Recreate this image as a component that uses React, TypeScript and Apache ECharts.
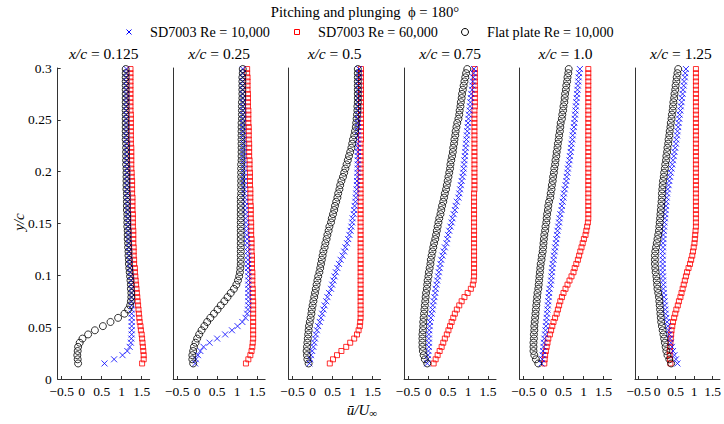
import React, { useEffect, useRef } from "react";
import * as echarts from "echarts";

// y/c positions of the measurement points (shared by every profile)
const yPos = [
  0.015, 0.019, 0.023, 0.027, 0.031, 0.035, 0.039, 0.043, 0.047, 0.051, 0.055, 0.059,
  0.063, 0.067, 0.071, 0.075, 0.079, 0.083, 0.087, 0.091, 0.095, 0.099, 0.103, 0.107,
  0.111, 0.115, 0.119, 0.123, 0.127, 0.131, 0.135, 0.139, 0.143, 0.147, 0.151, 0.155,
  0.159, 0.163, 0.167, 0.171, 0.175, 0.179, 0.183, 0.187, 0.191, 0.195, 0.199, 0.203,
  0.207, 0.211, 0.215, 0.219, 0.223, 0.227, 0.231, 0.235, 0.239, 0.243, 0.247, 0.251,
  0.255, 0.259, 0.263, 0.267, 0.271, 0.275, 0.279, 0.283, 0.287, 0.291, 0.295, 0.299,
];

const panelLabels = ["0.125", "0.25", "0.5", "0.75", "1.0", "1.25"];
const xTicks = [-0.5, 0, 0.5, 1, 1.5];
const seriesNames = ["SD7003 Re = 10,000", "SD7003 Re = 60,000", "Flat plate Re = 10,000"];

// ---- x/c = 0.125 ----
const sd10_p1 = [
  0.57, 0.81, 1.02, 1.14, 1.20, 1.23, 1.24, 1.25, 1.25, 1.25, 1.25, 1.25,
  1.25, 1.25, 1.25, 1.25, 1.25, 1.25, 1.25, 1.24, 1.24, 1.23, 1.22, 1.21,
  1.20, 1.20, 1.19, 1.19, 1.18, 1.18, 1.17, 1.17, 1.17, 1.16, 1.16, 1.16,
  1.16, 1.15, 1.15, 1.15, 1.15, 1.15, 1.14, 1.14, 1.14, 1.14, 1.14, 1.14,
  1.13, 1.13, 1.13, 1.13, 1.13, 1.13, 1.13, 1.12, 1.12, 1.12, 1.12, 1.12,
  1.12, 1.12, 1.12, 1.12, 1.12, 1.12, 1.12, 1.12, 1.12, 1.12, 1.12, 1.12,
];
const sd60_p1 = [
  1.51, 1.55, 1.55, 1.54, 1.53, 1.52, 1.51, 1.50, 1.48, 1.47, 1.45, 1.44,
  1.43, 1.42, 1.41, 1.40, 1.39, 1.38, 1.37, 1.36, 1.35, 1.34, 1.33, 1.33,
  1.31, 1.31, 1.30, 1.30, 1.30, 1.29, 1.29, 1.29, 1.29, 1.28, 1.28, 1.28,
  1.28, 1.27, 1.27, 1.27, 1.27, 1.26, 1.26, 1.26, 1.26, 1.25, 1.25, 1.24,
  1.24, 1.24, 1.24, 1.24, 1.24, 1.23, 1.23, 1.23, 1.23, 1.23, 1.23, 1.23,
  1.23, 1.22, 1.22, 1.22, 1.22, 1.22, 1.22, 1.22, 1.22, 1.22, 1.22, 1.22,
];
const flat_p1 = [
  -0.09, -0.10, -0.11, -0.10, -0.09, -0.05, 0.02, 0.16, 0.33, 0.53, 0.72, 0.91,
  1.07, 1.16, 1.21, 1.23, 1.24, 1.24, 1.23, 1.23, 1.22, 1.21, 1.20, 1.19,
  1.18, 1.18, 1.17, 1.17, 1.16, 1.16, 1.15, 1.15, 1.15, 1.14, 1.14, 1.14,
  1.14, 1.13, 1.13, 1.13, 1.13, 1.13, 1.12, 1.12, 1.12, 1.12, 1.12, 1.12,
  1.11, 1.11, 1.11, 1.11, 1.11, 1.11, 1.10, 1.10, 1.10, 1.10, 1.10, 1.10,
  1.10, 1.10, 1.10, 1.10, 1.10, 1.10, 1.10, 1.10, 1.10, 1.10, 1.10, 1.10,
];

// ---- x/c = 0.25 ----
const sd10_p2 = [
  -0.05, -0.03, 0.02, 0.08, 0.16, 0.31, 0.50, 0.70, 0.87, 1.01, 1.13, 1.21,
  1.25, 1.27, 1.28, 1.28, 1.28, 1.28, 1.28, 1.28, 1.28, 1.28, 1.28, 1.27,
  1.27, 1.27, 1.27, 1.26, 1.26, 1.25, 1.25, 1.24, 1.23, 1.23, 1.22, 1.21,
  1.21, 1.20, 1.20, 1.19, 1.19, 1.18, 1.18, 1.18, 1.17, 1.17, 1.17, 1.17,
  1.17, 1.16, 1.16, 1.16, 1.16, 1.16, 1.16, 1.15, 1.15, 1.15, 1.15, 1.15,
  1.15, 1.15, 1.15, 1.15, 1.15, 1.14, 1.14, 1.14, 1.14, 1.14, 1.14, 1.14,
];
const sd60_p2 = [
  1.22, 1.28, 1.33, 1.36, 1.38, 1.39, 1.40, 1.40, 1.40, 1.40, 1.40, 1.40,
  1.40, 1.40, 1.40, 1.40, 1.39, 1.39, 1.39, 1.38, 1.38, 1.38, 1.38, 1.37,
  1.37, 1.37, 1.37, 1.36, 1.36, 1.36, 1.36, 1.35, 1.35, 1.35, 1.35, 1.34,
  1.34, 1.34, 1.34, 1.33, 1.33, 1.33, 1.33, 1.32, 1.32, 1.32, 1.32, 1.31,
  1.31, 1.31, 1.30, 1.30, 1.30, 1.30, 1.29, 1.29, 1.29, 1.29, 1.28, 1.28,
  1.28, 1.28, 1.27, 1.27, 1.27, 1.27, 1.26, 1.26, 1.26, 1.26, 1.25, 1.25,
];
const flat_p2 = [
  -0.10, -0.12, -0.12, -0.10, -0.08, -0.04, 0.00, 0.05, 0.11, 0.18, 0.25, 0.33,
  0.42, 0.51, 0.59, 0.68, 0.76, 0.84, 0.92, 0.98, 1.02, 1.05, 1.07, 1.08,
  1.09, 1.09, 1.09, 1.09, 1.09, 1.09, 1.09, 1.09, 1.09, 1.09, 1.09, 1.09,
  1.09, 1.09, 1.09, 1.09, 1.09, 1.10, 1.10, 1.10, 1.10, 1.10, 1.10, 1.10,
  1.10, 1.11, 1.11, 1.11, 1.11, 1.11, 1.11, 1.11, 1.11, 1.11, 1.11, 1.12,
  1.12, 1.12, 1.12, 1.12, 1.13, 1.13, 1.13, 1.13, 1.13, 1.13, 1.14, 1.14,
];

// ---- x/c = 0.5 ----
const sd10_p3 = [
  -0.08, -0.06, -0.04, -0.01, 0.02, 0.04, 0.06, 0.08, 0.11, 0.14, 0.18, 0.21,
  0.24, 0.27, 0.30, 0.34, 0.37, 0.41, 0.46, 0.49, 0.52, 0.55, 0.58, 0.62,
  0.66, 0.70, 0.75, 0.79, 0.82, 0.86, 0.89, 0.92, 0.95, 0.97, 0.99, 1.00,
  1.03, 1.04, 1.05, 1.07, 1.08, 1.09, 1.10, 1.11, 1.11, 1.12, 1.12, 1.13,
  1.13, 1.13, 1.13, 1.13, 1.13, 1.13, 1.13, 1.13, 1.13, 1.13, 1.13, 1.13,
  1.14, 1.14, 1.14, 1.14, 1.14, 1.15, 1.15, 1.15, 1.15, 1.16, 1.16, 1.16,
];
const sd60_p3 = [
  0.43, 0.51, 0.61, 0.72, 0.84, 0.94, 1.04, 1.11, 1.15, 1.18, 1.19, 1.20,
  1.20, 1.20, 1.20, 1.20, 1.20, 1.20, 1.20, 1.20, 1.20, 1.20, 1.20, 1.20,
  1.20, 1.20, 1.20, 1.20, 1.20, 1.20, 1.20, 1.20, 1.20, 1.20, 1.20, 1.20,
  1.20, 1.20, 1.20, 1.20, 1.20, 1.20, 1.20, 1.20, 1.20, 1.20, 1.20, 1.20,
  1.20, 1.20, 1.20, 1.20, 1.20, 1.20, 1.21, 1.21, 1.21, 1.21, 1.21, 1.21,
  1.21, 1.21, 1.21, 1.21, 1.21, 1.21, 1.21, 1.21, 1.21, 1.21, 1.21, 1.21,
];
const flat_p3 = [
  -0.10, -0.13, -0.14, -0.15, -0.14, -0.13, -0.12, -0.11, -0.10, -0.09, -0.07, -0.05,
  -0.03, -0.02, 0.00, 0.02, 0.04, 0.06, 0.08, 0.10, 0.12, 0.14, 0.17, 0.19,
  0.21, 0.23, 0.25, 0.27, 0.30, 0.32, 0.35, 0.37, 0.40, 0.42, 0.46, 0.48,
  0.51, 0.54, 0.56, 0.59, 0.62, 0.64, 0.67, 0.69, 0.72, 0.76, 0.79, 0.82,
  0.85, 0.88, 0.91, 0.94, 0.97, 0.99, 1.01, 1.04, 1.06, 1.08, 1.09, 1.10,
  1.11, 1.12, 1.12, 1.13, 1.13, 1.13, 1.13, 1.13, 1.13, 1.13, 1.13, 1.13,
];

// ---- x/c = 0.75 ----
const sd10_p4 = [
  -0.02, -0.01, 0.00, 0.01, 0.02, 0.02, 0.02, 0.02, 0.03, 0.04, 0.05, 0.07,
  0.09, 0.11, 0.12, 0.14, 0.16, 0.18, 0.19, 0.21, 0.23, 0.25, 0.27, 0.29,
  0.31, 0.33, 0.36, 0.39, 0.42, 0.46, 0.48, 0.50, 0.53, 0.56, 0.59, 0.61,
  0.64, 0.67, 0.69, 0.72, 0.76, 0.78, 0.80, 0.82, 0.84, 0.86, 0.88, 0.89,
  0.90, 0.91, 0.92, 0.93, 0.94, 0.95, 0.96, 0.97, 0.98, 0.99, 1.00, 1.01,
  1.02, 1.04, 1.05, 1.06, 1.07, 1.08, 1.10, 1.11, 1.12, 1.13, 1.14, 1.15,
];
const sd60_p4 = [
  0.14, 0.19, 0.24, 0.29, 0.34, 0.38, 0.42, 0.47, 0.51, 0.55, 0.59, 0.63,
  0.67, 0.72, 0.78, 0.84, 0.91, 0.99, 1.07, 1.12, 1.14, 1.15, 1.15, 1.15,
  1.15, 1.15, 1.15, 1.15, 1.15, 1.15, 1.15, 1.15, 1.15, 1.15, 1.15, 1.15,
  1.15, 1.15, 1.15, 1.15, 1.15, 1.15, 1.16, 1.16, 1.16, 1.16, 1.16, 1.16,
  1.16, 1.16, 1.16, 1.16, 1.16, 1.16, 1.16, 1.16, 1.16, 1.16, 1.16, 1.16,
  1.16, 1.16, 1.17, 1.17, 1.17, 1.17, 1.17, 1.17, 1.17, 1.17, 1.17, 1.17,
];
const flat_p4 = [
  -0.02, -0.08, -0.11, -0.13, -0.14, -0.14, -0.14, -0.14, -0.13, -0.12, -0.12, -0.11,
  -0.10, -0.09, -0.08, -0.07, -0.06, -0.05, -0.03, -0.02, -0.01, 0.01, 0.02, 0.04,
  0.06, 0.07, 0.09, 0.11, 0.13, 0.15, 0.18, 0.20, 0.22, 0.24, 0.26, 0.28,
  0.31, 0.33, 0.35, 0.38, 0.40, 0.42, 0.45, 0.47, 0.49, 0.51, 0.53, 0.55,
  0.56, 0.58, 0.60, 0.62, 0.63, 0.65, 0.66, 0.68, 0.69, 0.71, 0.73, 0.76,
  0.78, 0.79, 0.81, 0.82, 0.84, 0.85, 0.87, 0.89, 0.91, 0.93, 0.95, 0.98,
];

// ---- x/c = 1.0 ----
const sd10_p5 = [
  -0.05, -0.03, -0.02, -0.01, 0.00, 0.01, 0.02, 0.04, 0.05, 0.06, 0.07, 0.08,
  0.09, 0.10, 0.11, 0.12, 0.13, 0.14, 0.15, 0.18, 0.19, 0.20, 0.21, 0.22,
  0.23, 0.25, 0.26, 0.28, 0.29, 0.31, 0.32, 0.34, 0.35, 0.37, 0.39, 0.40,
  0.42, 0.45, 0.46, 0.48, 0.50, 0.51, 0.53, 0.55, 0.57, 0.58, 0.60, 0.61,
  0.63, 0.65, 0.66, 0.68, 0.69, 0.70, 0.72, 0.73, 0.74, 0.76, 0.77, 0.78,
  0.79, 0.80, 0.81, 0.82, 0.83, 0.84, 0.85, 0.86, 0.87, 0.88, 0.89, 0.91,
];
const sd60_p5 = [
  0.02, 0.03, 0.04, 0.06, 0.08, 0.10, 0.12, 0.16, 0.19, 0.22, 0.25, 0.29,
  0.33, 0.36, 0.39, 0.42, 0.46, 0.50, 0.55, 0.60, 0.65, 0.70, 0.75, 0.78,
  0.82, 0.86, 0.89, 0.92, 0.95, 0.98, 1.01, 1.05, 1.07, 1.09, 1.11, 1.12,
  1.12, 1.12, 1.12, 1.12, 1.12, 1.12, 1.12, 1.12, 1.12, 1.12, 1.12, 1.12,
  1.12, 1.12, 1.12, 1.12, 1.12, 1.12, 1.12, 1.12, 1.12, 1.12, 1.12, 1.12,
  1.12, 1.12, 1.12, 1.12, 1.12, 1.12, 1.12, 1.12, 1.12, 1.12, 1.12, 1.12,
];
const flat_p5 = [
  -0.13, -0.19, -0.23, -0.25, -0.25, -0.25, -0.24, -0.24, -0.23, -0.23, -0.22, -0.21,
  -0.20, -0.19, -0.18, -0.17, -0.16, -0.15, -0.13, -0.12, -0.11, -0.10, -0.09, -0.08,
  -0.07, -0.05, -0.04, -0.02, -0.01, 0.00, 0.01, 0.02, 0.04, 0.05, 0.07, 0.08,
  0.09, 0.11, 0.12, 0.14, 0.17, 0.18, 0.20, 0.21, 0.23, 0.24, 0.26, 0.27,
  0.29, 0.30, 0.32, 0.33, 0.35, 0.36, 0.38, 0.39, 0.41, 0.42, 0.43, 0.46,
  0.47, 0.49, 0.50, 0.52, 0.53, 0.54, 0.56, 0.57, 0.59, 0.60, 0.62, 0.63,
];

// ---- x/c = 1.25 ----
const sd10_p6 = [
  0.55, 0.51, 0.47, 0.43, 0.40, 0.37, 0.35, 0.33, 0.31, 0.29, 0.27, 0.25,
  0.23, 0.22, 0.21, 0.20, 0.19, 0.18, 0.17, 0.17, 0.16, 0.16, 0.15, 0.15,
  0.15, 0.15, 0.15, 0.15, 0.16, 0.16, 0.17, 0.17, 0.18, 0.19, 0.20, 0.21,
  0.22, 0.23, 0.24, 0.25, 0.26, 0.27, 0.29, 0.31, 0.33, 0.35, 0.37, 0.39,
  0.41, 0.43, 0.45, 0.47, 0.49, 0.51, 0.52, 0.54, 0.55, 0.57, 0.58, 0.60,
  0.61, 0.63, 0.64, 0.66, 0.67, 0.69, 0.70, 0.72, 0.73, 0.75, 0.76, 0.78,
];
const sd60_p6 = [
  0.36, 0.35, 0.34, 0.34, 0.35, 0.36, 0.37, 0.38, 0.39, 0.41, 0.43, 0.46,
  0.49, 0.52, 0.56, 0.59, 0.63, 0.66, 0.69, 0.72, 0.75, 0.78, 0.81, 0.85,
  0.89, 0.92, 0.95, 0.97, 0.99, 1.01, 1.02, 1.03, 1.04, 1.05, 1.05, 1.05,
  1.05, 1.05, 1.05, 1.05, 1.05, 1.05, 1.05, 1.05, 1.05, 1.05, 1.05, 1.05,
  1.05, 1.05, 1.05, 1.05, 1.05, 1.05, 1.05, 1.05, 1.05, 1.05, 1.05, 1.05,
  1.05, 1.05, 1.05, 1.05, 1.05, 1.05, 1.05, 1.05, 1.05, 1.05, 1.05, 1.05,
];
const flat_p6 = [
  0.38, 0.33, 0.28, 0.25, 0.23, 0.21, 0.19, 0.17, 0.15, 0.13, 0.11, 0.10,
  0.09, 0.08, 0.07, 0.06, 0.05, 0.03, 0.01, 0.00, -0.01, -0.02, -0.04, -0.05,
  -0.06, -0.06, -0.06, -0.05, -0.03, -0.01, 0.01, 0.03, 0.05, 0.06, 0.07, 0.08,
  0.09, 0.10, 0.11, 0.12, 0.13, 0.13, 0.14, 0.15, 0.16, 0.18, 0.19, 0.21,
  0.22, 0.24, 0.25, 0.27, 0.28, 0.30, 0.31, 0.33, 0.34, 0.36, 0.37, 0.39,
  0.40, 0.42, 0.43, 0.44, 0.46, 0.47, 0.49, 0.50, 0.52, 0.53, 0.55, 0.57,
];

const sd10Profiles = [sd10_p1, sd10_p2, sd10_p3, sd10_p4, sd10_p5, sd10_p6];
const sd60Profiles = [sd60_p1, sd60_p2, sd60_p3, sd60_p4, sd60_p5, sd60_p6];
const flatProfiles = [flat_p1, flat_p2, flat_p3, flat_p4, flat_p5, flat_p6];

const FONT = "Liberation Serif";
const PANEL_LEFT = [57.7, 173.15, 288.6, 404.05, 519.5, 634.95];
const PANEL_W = 92;
const PANEL_TOP = 68;
const PANEL_H = 311;
const AXIS_COLOR = "#333";
const CROSS = "path://M0,0L10,10M10,0L0,10";

const fmtX = (v: number) => (v < 0 ? "\u2212" + Math.abs(v) : String(v));

export default function App() {
  const ref = useRef<HTMLDivElement>(null);

  useEffect(() => {
    if (!ref.current) return;
    const chart = echarts.init(ref.current, undefined, { renderer: "svg" });

    const grids: any[] = [];
    const xAxes: any[] = [];
    const yAxes: any[] = [];
    const series: any[] = [];
    const graphics: any[] = [];

    PANEL_LEFT.forEach((left, p) => {
      grids.push({ left, top: PANEL_TOP, width: PANEL_W, height: PANEL_H });
      xAxes.push({
        type: "value",
        gridIndex: p,
        min: -0.6,
        max: 1.7,
        axisLine: { show: true, onZero: false, lineStyle: { color: AXIS_COLOR, width: 1 } },
        axisTick: { show: true, inside: true, length: 3, customValues: xTicks, lineStyle: { color: AXIS_COLOR } },
        axisLabel: {
          customValues: xTicks,
          formatter: fmtX,
          color: "#000",
          fontFamily: FONT,
          fontSize: 13.5,
          margin: 5,
        },
        splitLine: { show: false },
      });
      yAxes.push({
        type: "value",
        gridIndex: p,
        min: 0,
        max: 0.3,
        interval: 0.05,
        axisLine: { show: true, onZero: false, lineStyle: { color: AXIS_COLOR, width: 1 } },
        axisTick: { show: p === 0, inside: true, length: 3, lineStyle: { color: AXIS_COLOR } },
        axisLabel: { show: p === 0, color: "#000", fontFamily: FONT, fontSize: 13.5, margin: 6 },
        splitLine: { show: false },
      });

      series.push({
        name: seriesNames[1],
        type: "scatter",
        xAxisIndex: p,
        yAxisIndex: p,
        symbol: "rect",
        symbolSize: 5,
        itemStyle: { color: "rgba(0,0,0,0)", borderColor: "#ff0000", borderWidth: 1 },
        data: yPos.map((y, i) => [sd60Profiles[p][i], y]),
      });
      series.push({
        name: seriesNames[0],
        type: "scatter",
        xAxisIndex: p,
        yAxisIndex: p,
        symbol: CROSS,
        symbolSize: 6,
        itemStyle: { color: "rgba(0,0,0,0)", borderColor: "#0000ff", borderWidth: 1 },
        data: yPos.map((y, i) => [sd10Profiles[p][i], y]),
      });
      series.push({
        name: seriesNames[2],
        type: "scatter",
        xAxisIndex: p,
        yAxisIndex: p,
        symbol: "circle",
        symbolSize: 7,
        itemStyle: { color: "rgba(0,0,0,0)", borderColor: "#000000", borderWidth: 1 },
        data: yPos.map((y, i) => [flatProfiles[p][i], y]),
      });

      graphics.push({
        type: "text",
        x: left + PANEL_W / 2,
        y: 53,
        style: {
          text: "{i|x/c} = " + panelLabels[p],
          fontFamily: FONT,
          fontSize: 15.5,
          fill: "#000",
          align: "center",
          verticalAlign: "middle",
          rich: { i: { fontFamily: FONT, fontSize: 15.5, fontStyle: "italic", fill: "#000" } },
        },
      });
    });

    // title
    graphics.push({
      type: "text",
      x: 365,
      y: 12,
      style: {
        text: "Pitching and plunging  \u03d5 = 180\u00b0",
        fontFamily: FONT,
        fontSize: 14.7,
        fill: "#000",
        align: "center",
        verticalAlign: "middle",
      },
    });

    // legend
    graphics.push(
      { type: "line", shape: { x1: 126.5, y1: 29.5, x2: 131.5, y2: 34.5 }, style: { stroke: "#0000ff", lineWidth: 1 } },
      { type: "line", shape: { x1: 131.5, y1: 29.5, x2: 126.5, y2: 34.5 }, style: { stroke: "#0000ff", lineWidth: 1 } },
      { type: "rect", shape: { x: 294.5, y: 29.5, width: 5, height: 5 }, style: { fill: "none", stroke: "#ff0000", lineWidth: 1 } },
      { type: "circle", shape: { cx: 465, cy: 32, r: 3.5 }, style: { fill: "none", stroke: "#000", lineWidth: 1 } }
    );
    [150, 318, 487].forEach((x, k) => {
      graphics.push({
        type: "text",
        x,
        y: 32,
        style: {
          text: seriesNames[k],
          fontFamily: FONT,
          fontSize: 14.2,
          fill: "#000",
          align: "left",
          verticalAlign: "middle",
        },
      });
    });

    // axis names
    graphics.push({
      type: "text",
      x: 19,
      y: 222,
      rotation: Math.PI / 2,
      style: {
        text: "{i|y/c}",
        fontFamily: FONT,
        fontSize: 15,
        fill: "#000",
        align: "center",
        verticalAlign: "middle",
        rich: { i: { fontFamily: FONT, fontSize: 15, fontStyle: "italic", fill: "#000" } },
      },
    });
    graphics.push({
      type: "text",
      x: 362,
      y: 410,
      style: {
        text: "{i|\u016b/U}{s|\u221e}",
        fontFamily: FONT,
        fontSize: 15,
        fill: "#000",
        align: "center",
        verticalAlign: "middle",
        rich: {
          i: { fontFamily: FONT, fontSize: 15, fontStyle: "italic", fill: "#000" },
          s: { fontFamily: FONT, fontSize: 11, fill: "#000", padding: [6, 0, 0, 0] },
        },
      },
    });

    chart.setOption({
      animation: false,
      backgroundColor: "#ffffff",
      textStyle: { fontFamily: FONT },
      grid: grids,
      xAxis: xAxes,
      yAxis: yAxes,
      series,
      graphic: graphics,
    });

    return () => chart.dispose();
  }, []);

  return (
    <div
      ref={ref}
      style={{ position: "absolute", left: 0, top: 0, width: 724, height: 424 }}
    />
  );
}
